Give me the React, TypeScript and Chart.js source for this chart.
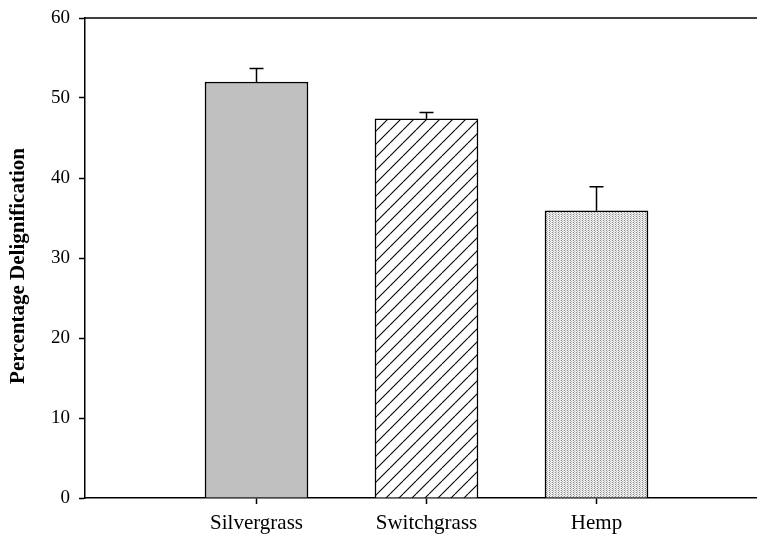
import React, { useEffect, useRef } from 'react';
import { Chart, registerables } from 'chart.js';
Chart.register(...registerables);

const categories = ['Silvergrass', 'Switchgrass', 'Hemp'];
const categoryPositions = [1, 2, 3];
const means = [52.0, 47.4, 35.9];
const errors = [1.7, 0.8, 3.0];
const yMin = 0;
const yMax = 60;
const yStep = 10;
const yTitle = 'Percentage Delignification';

const FONT = "'Liberation Serif', 'Times New Roman', serif";

function makeHatch(): CanvasPattern | string {
  const s = 13;
  const c = document.createElement('canvas');
  c.width = s;
  c.height = s;
  const g = c.getContext('2d');
  if (!g) return '#fff';
  g.fillStyle = '#ffffff';
  g.fillRect(0, 0, s, s);
  g.strokeStyle = '#000';
  g.lineWidth = 1.1;
  for (const o of [-s, 0, s]) {
    g.beginPath();
    g.moveTo(o, s);
    g.lineTo(o + s, 0);
    g.stroke();
  }
  return g.createPattern(c, 'repeat') || '#fff';
}

function makeStipple(): CanvasPattern | string {
  const w = 3;
  const h = 2;
  const c = document.createElement('canvas');
  c.width = w;
  c.height = h;
  const g = c.getContext('2d');
  if (!g) return '#ddd';
  g.fillStyle = '#f2f2f2';
  g.fillRect(0, 0, w, h);
  g.fillStyle = '#8a8a8a';
  g.fillRect(0, 0, 1, 1);
  g.fillStyle = '#b8b8b8';
  g.fillRect(1, 1, 1, 1);
  g.fillStyle = '#dcdcdc';
  g.fillRect(2, 0, 1, 1);
  return g.createPattern(c, 'repeat') || '#ddd';
}

export default function App() {
  const ref = useRef<HTMLCanvasElement | null>(null);

  useEffect(() => {
    const canvas = ref.current;
    if (!canvas) return;

    const errorBars = {
      id: 'errorBars',
      afterDatasetsDraw(chart: any) {
        const ctx = chart.ctx;
        const xs = chart.scales.x;
        const ys = chart.scales.y;
        ctx.save();
        ctx.strokeStyle = '#000';
        ctx.lineWidth = 1.5;
        categoryPositions.forEach((p, i) => {
          const x = xs.getPixelForValue(p);
          const y0 = ys.getPixelForValue(means[i]);
          const y1 = ys.getPixelForValue(means[i] + errors[i]);
          ctx.beginPath();
          ctx.moveTo(x, y0);
          ctx.lineTo(x, y1);
          ctx.moveTo(x - 7, y1);
          ctx.lineTo(x + 7, y1);
          ctx.stroke();
        });
        ctx.restore();
      },
    };

    const frame = {
      id: 'frame',
      afterDraw(chart: any) {
        const { ctx, chartArea } = chart;
        ctx.save();
        ctx.strokeStyle = '#000';
        ctx.lineWidth = 1.5;
        ctx.beginPath();
        ctx.moveTo(chartArea.left, chartArea.top);
        ctx.lineTo(chartArea.right + 5, chartArea.top);
        ctx.stroke();
        // rotated y-axis title
        ctx.fillStyle = '#000';
        ctx.font = `bold 21px ${FONT}`;
        ctx.textAlign = 'center';
        ctx.textBaseline = 'middle';
        ctx.translate(19, 266);
        ctx.rotate(-Math.PI / 2);
        ctx.fillText(yTitle, 0, 0);
        ctx.restore();
      },
    };

    const chart = new Chart(canvas, {
      type: 'bar',
      data: {
        datasets: [
          {
            data: categoryPositions.map((p, i) => ({ x: p, y: means[i] })),
            backgroundColor: ['#c0c0c0', makeHatch(), makeStipple()] as any,
            borderColor: '#000',
            borderWidth: 1.5,
            barThickness: 103,
          },
        ],
      },
      options: {
        animation: false,
        responsive: false,
        events: [],
        layout: { padding: { top: 18, left: 0, right: 0, bottom: 0 } },
        plugins: {
          legend: { display: false },
          tooltip: { enabled: false },
        },
        scales: {
          x: {
            type: 'linear',
            offset: false,
            min: 1 - (256.5 - 85) / 170,
            max: 1 + (757 - 256.5) / 170,
            afterBuildTicks: (scale: any) => {
              scale.ticks = categoryPositions.map((v) => ({ value: v }));
            },
            afterFit: (scale: any) => {
              scale.height = 44;
              scale.paddingLeft = 0;
              scale.paddingRight = 0;
            },
            ticks: {
              autoSkip: false,
              maxRotation: 0,
              color: '#000',
              padding: 7,
              font: { family: FONT, size: 21 },
              callback: (v: any) => categories[categoryPositions.indexOf(Number(v))] ?? '',
            },
            grid: {
              display: true,
              offset: false,
              drawOnChartArea: false,
              drawTicks: true,
              tickLength: 6,
              tickWidth: 1.5,
              color: '#000',
            },
            border: { display: true, color: '#000', width: 1.5 },
          },
          y: {
            type: 'linear',
            min: yMin,
            max: yMax,
            afterFit: (scale: any) => {
              scale.width = 85;
              scale.paddingTop = 0;
              scale.paddingBottom = 0;
            },
            ticks: {
              stepSize: yStep,
              color: '#000',
              padding: 9,
              font: { family: FONT, size: 19 },
            },
            grid: {
              display: true,
              drawOnChartArea: false,
              drawTicks: true,
              tickLength: 6,
              tickWidth: 1.5,
              color: '#000',
            },
            border: { display: true, color: '#000', width: 1.5 },
          },
        },
      },
      plugins: [errorBars, frame],
    } as any);

    return () => chart.destroy();
  }, []);

  return (
    <div style={{ position: 'absolute', left: 0, top: 0, width: 757, height: 542, background: '#fff' }}>
      <canvas ref={ref} width={757} height={542} style={{ display: 'block', width: 757, height: 542 }} />
    </div>
  );
}
